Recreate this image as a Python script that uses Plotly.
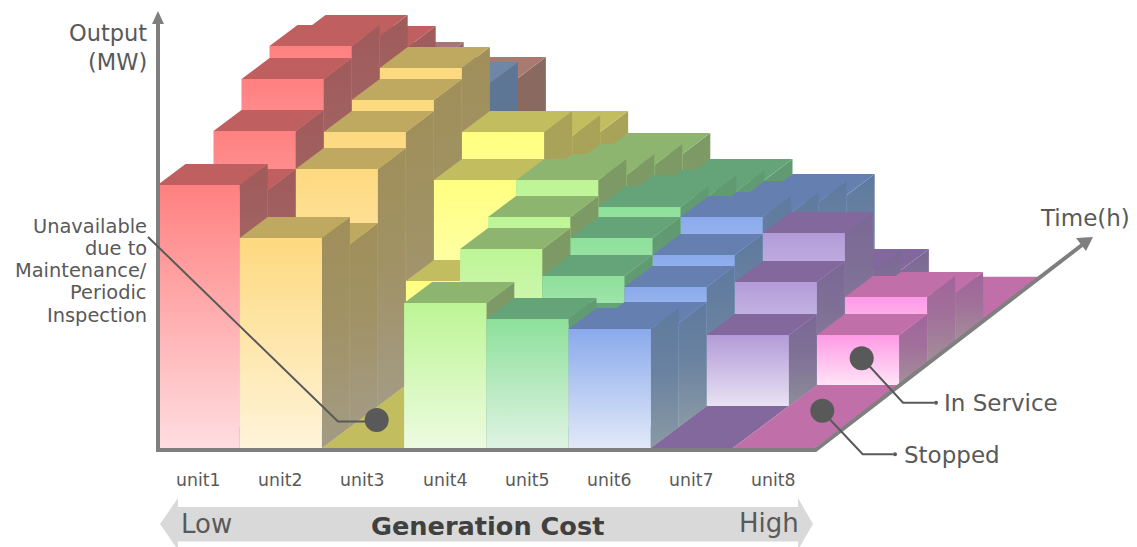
import plotly.graph_objects as go

# Output of each unit over eight time steps (0 means the unit is stopped)
units = ["unit1", "unit2", "unit3", "unit4", "unit5", "unit6", "unit7", "unit8"]
unit1_output = [263, 237, 275, 306, 318, 307, 275, 238]
unit2_output = [210, 183, 237, 253, 264, 275, 239, 223]
unit3_output = [0, 0, 0, 104, 184, 211, 186, 169]
unit4_output = [145, 0, 157, 168, 184, 168, 157, 147]
unit5_output = [129, 103, 130, 147, 157, 147, 131, 121]
unit6_output = [119, 104, 119, 130, 147, 130, 120, 106]
unit7_output = [0, 0, 71, 103, 131, 72, 52, 0]
unit8_output = [0, 0, 0, 50, 67, 50, 0, 0]
outputs = [unit1_output, unit2_output, unit3_output, unit4_output,
           unit5_output, unit6_output, unit7_output, unit8_output]

# Face colours per unit: front top, front bottom, top face, side top, side bottom
front_top = ["#ff8080", "#fdd97f", "#ffff80", "#bdf595", "#8de09a", "#8aaaec", "#b39bd8", "#ff99e6"]
front_low = ["#ffdde0", "#fff4da", "#ffffd0", "#ecfbe0", "#dff3e3", "#e2e9f8", "#e8e2f3", "#ffe4f6"]
top_face = ["#bf5f5f", "#bfa85f", "#c2bd5f", "#8db56f", "#65a478", "#6580b0", "#82689d", "#c06fa8"]
side_top = ["#a05a5a", "#a08f5a", "#a9a357", "#7c9a64", "#5f9a70", "#5f7a9f", "#7b6895", "#a0659a"]
side_low = ["#a39b8f", "#a39b85", "#a3a070", "#8d9f80", "#85a090", "#8a9aa5", "#8d8d9a", "#a39098"]

# A few bars at the far end carry their own colours: (unit, step) -> (top, side)
special_bars = {(0, 7): ("#a5757a", "#8f6a6a"),
                (1, 6): ("#6e87a8", "#5e7695"),
                (1, 7): ("#a87a70", "#8a6a60")}

W, H = 1137, 547
X0, FLOOR_Y = 157.5, 99
UNIT_W, STEP_X, STEP_Y = 82.2, 28, 21
SEAM = 0.03  # side faces tuck slightly under the nearer bar to hide hairline seams
AXIS = "#7f7f7f"
INK = "#595959"


def project(unit, step, level):
    """Oblique projection of (unit, time step, output) onto the page plane."""
    return X0 + UNIT_W * unit + STEP_X * step, FLOOR_Y + STEP_Y * step + level


def blend(a, b, share):
    ca = [int(a[i:i + 2], 16) for i in (1, 3, 5)]
    cb = [int(b[i:i + 2], 16) for i in (1, 3, 5)]
    return "#" + "".join(f"{round(x + (y - x) * share):02x}" for x, y in zip(ca, cb))


def face(points, colour=None, scale=None):
    xs = [p[0] for p in points] + [points[0][0]]
    ys = [p[1] for p in points] + [points[0][1]]
    kw = dict(fillcolor=colour) if colour else dict(
        fillgradient=dict(type="vertical", colorscale=scale))
    return go.Scatter(x=xs, y=ys, mode="lines", fill="toself", line=dict(width=0),
                      hoverinfo="skip", showlegend=False, **kw)


fig = go.Figure()

# Floor strip of every unit
n_steps = len(unit1_output)
for u in range(len(units)):
    depth = n_steps + 0.15
    fig.add_trace(face([project(u, 0, 0), project(u + 1, 0, 0),
                        project(u + 1, depth, 0), project(u, depth, 0)],
                       colour=top_face[u]))

# Bars, painted from the far time step to the near one, left to right
for t in range(n_steps - 1, -1, -1):
    for u in range(len(units)):
        h = outputs[u][t]
        if h <= 0:
            continue
        special = (u, t) in special_bars
        top_c, side_c = special_bars.get((u, t), (top_face[u], side_top[u]))
        side_l = side_c if special else side_low[u]
        f_t = side_c if special else front_top[u]
        f_l = side_c if special else front_low[u]
        near = t - SEAM if t else t
        fig.add_trace(face([project(u + 1, near, 0), project(u + 1, t + 1, 0),
                            project(u + 1, t + 1, h), project(u + 1, near, h)],
                           scale=[[0, side_l], [0.55, blend(side_c, side_l, 0.25)], [1, side_c]]))
        fig.add_trace(face([project(u, t, h), project(u + 1, t, h),
                            project(u + 1, t + 1, h), project(u, t + 1, h)],
                           colour=top_c))
        fig.add_trace(face([project(u, t, 0), project(u + 1, t, 0),
                            project(u + 1, t, h), project(u, t, h)],
                           scale=[[0, f_l], [1, f_t]]))


def sy(y):
    return H - y


def polygon(points, colour):
    path = "M " + " L ".join(f"{x},{sy(y)}" for x, y in points) + " Z"
    return dict(type="path", path=path, fillcolor=colour, line=dict(width=0), layer="above")


def polyline(points, colour, width):
    path = "M " + " L ".join(f"{x},{sy(y)}" for x, y in points)
    return dict(type="path", path=path, line=dict(color=colour, width=width), layer="above")


def dot(x, y, r):
    return dict(type="circle", x0=x - r, x1=x + r, y0=sy(y) - r, y1=sy(y) + r,
                fillcolor=INK, line=dict(width=0), layer="above")


shapes = [
    # Output axis, cost axis and time axis
    polyline([(158, 450), (158, 22)], AXIS, 4),
    polygon([(158, 11), (164, 24), (152, 24)], AXIS),
    polyline([(156, 450), (815.5, 450), (1082, 245)], AXIS, 4),
    polygon([(1093, 237), (1086, 251), (1076, 238)], AXIS),
    # Generation cost band
    polygon([(160, 524), (178, 498), (178, 507), (798, 507), (798, 498), (813, 524),
             (798, 550), (798, 541.5), (178, 541.5), (178, 550)], "#d9d9d9"),
    # Call-outs
    polyline([(148, 237), (338, 421.5), (365, 421.5)], INK, 2),
    dot(376.7, 420, 12),
    polyline([(862, 358), (903, 402.7), (934, 402.7)], INK, 2),
    dot(861.7, 358.3, 12),
    dot(936, 402.7, 2),
    polyline([(822, 411), (862.7, 454.3), (893, 454.3)], INK, 2),
    dot(822.3, 410.7, 12),
    dot(895, 454.3, 2),
]

FONT = "DejaVu Sans"


def label(text, x, y, size, anchor="left", colour=INK, bold=False):
    body = f"<b>{text}</b>" if bold else text
    return dict(text=body, x=x, y=sy(y), xref="x", yref="y", showarrow=False,
                xanchor=anchor, yanchor="middle", borderpad=0,
                font=dict(family=FONT, size=size, color=colour))


annotations = [
    label("Output", 148, 33, 22.5, "right"),
    label("(MW)", 148, 62, 22.5, "right"),
    label("Time(h)", 1131, 218, 23, "right"),
    label("In Service", 943, 403, 23),
    label("Stopped", 903, 455, 23),
    label("Low", 180, 524, 26),
    label("High", 800, 523, 26, "right"),
    label("Generation Cost", 487, 526, 25.6, "center", "#404040", True),
]
for i, line in enumerate(["Unavailable", "due to", "Maintenance/", "Periodic", "Inspection"]):
    annotations.append(label(line, 148, 226 + 22.3 * i, 19.4, "right"))
for u, name in enumerate(units):
    annotations.append(label(name, 198 + 82.2 * u, 480, 17.3, "center"))

fig.update_layout(
    width=W, height=H, autosize=False,
    margin=dict(l=0, r=0, t=0, b=0),
    paper_bgcolor="white", plot_bgcolor="white",
    xaxis=dict(range=[0, W], visible=False, fixedrange=True),
    yaxis=dict(range=[0, H], visible=False, fixedrange=True),
    shapes=shapes, annotations=annotations, showlegend=False,
)
fig.write_html("out.html", config=dict(displayModeBar=False))
